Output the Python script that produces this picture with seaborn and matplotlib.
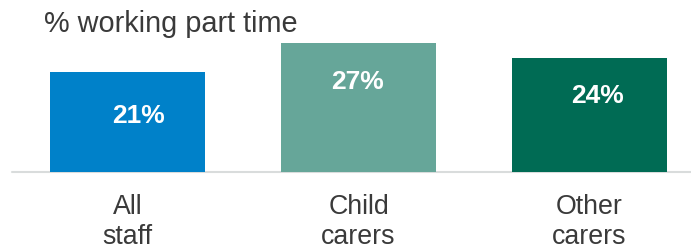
import matplotlib
matplotlib.use("Agg")
import matplotlib.pyplot as plt
import seaborn as sns

categories = ["All\nstaff", "Child\ncarers", "Other\ncarers"]
values = [21, 27, 24]
value_labels = ["21%", "27%", "24%"]
colors = ["#0081C9", "#66A699", "#006B54"]

# label placement offsets in pixels (dx right, dy below bar top to baseline)
label_dx = [11, -0.5, 7.5]
label_dy = [51.3, 45.3, 45.3]

sns.set_theme(style="white")
plt.rcParams["font.family"] = ["Liberation Sans", "DejaVu Sans"]

W, H = 691, 248
fig = plt.figure(figsize=(W / 100, H / 100), dpi=100)
ax = fig.add_axes([0, (H - 172) / H, 1, 133.3 / H])

sns.barplot(x=categories, y=values, hue=categories, palette=colors,
            width=0.671, saturation=1, legend=False, ax=ax, linewidth=0)

ax.set_xlim(-127.5 / 231, 2 + (W - 589.5) / 231)
ax.set_ylim(0, 28)
for s in ax.spines.values():
    s.set_visible(False)
ax.set_yticks([])
ax.set_ylabel("")
ax.set_xlabel("")
ax.axhline(0, xmin=12 / W, xmax=1, color="#D9DCDC", lw=1.5, zorder=0.5, clip_on=False)
ax.tick_params(axis="x", length=0, pad=16, labelsize=19.3, labelcolor="#3A3A3A")

px = 72 / 100
for i, (v, t) in enumerate(zip(values, value_labels)):
    ax.annotate(t, xy=(i, v), xytext=(label_dx[i] * px, -label_dy[i] * px),
                textcoords="offset points", ha="center", va="baseline",
                fontsize=19, fontweight="bold", color="white")

fig.text(44 / W, 1 - 32 / H, "% working part time", fontsize=20.8,
         color="#3A3A3A", ha="left", va="baseline")

fig.savefig("out.png", dpi=100)
